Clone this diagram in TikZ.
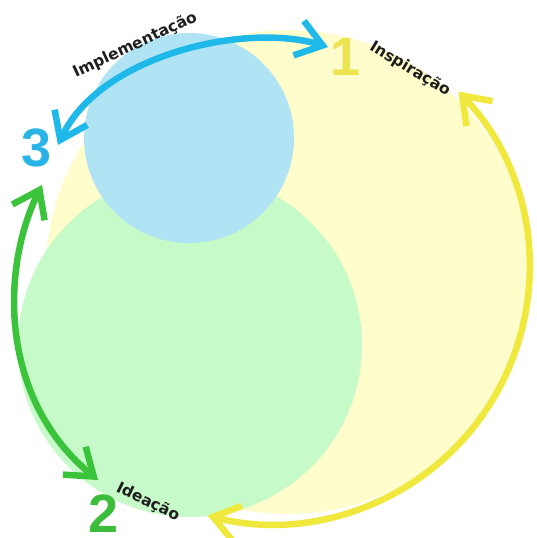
\documentclass[tikz,border=0pt]{standalone}
\usepackage{fontspec}
\usetikzlibrary{arrows.meta,calc}
\newfontfamily\labfont{DejaVu Sans}
\newfontfamily\numfont{Liberation Sans}
\definecolor{yfill}{RGB}{255,253,204}
\definecolor{gfill}{RGB}{198,250,200}
\definecolor{bfill}{RGB}{176,228,244}
\definecolor{yline}{RGB}{240,232,60}
\definecolor{bline}{RGB}{30,185,232}
\definecolor{gline}{RGB}{60,195,60}
\definecolor{ynum}{RGB}{236,228,80}
\definecolor{bnum}{RGB}{40,180,230}
\definecolor{gnum}{RGB}{60,190,60}
\definecolor{txt}{RGB}{30,30,30}
\tikzset{
  cyc/.style={line width=6.5pt, arrows={Straight Barb[length=25pt,width=36pt]-Straight Barb[length=25pt,width=36pt]}},
  lab/.style={font=\labfont\bfseries\fontsize{15.5}{17}\selectfont, text=txt, inner sep=0pt},
  num/.style={font=\numfont\bfseries\fontsize{54}{60}\selectfont, inner sep=0pt},
}
\begin{document}
\begin{tikzpicture}[x=1pt,y=-1pt]
\useasboundingbox (0,0) rectangle (537,538);
\fill[white] (0,0) rectangle (537,538);
% circles
\fill[yfill] (288,272) circle[radius=242];
\fill[gfill] (190,345) circle[radius=172];
\fill[bfill] (189,138) circle[radius=105];
% end points
\coordinate (yC) at (273,268);
\coordinate (yA) at ($(yC)+(-43.6:256)$);
\coordinate (bA) at (58,145);
\coordinate (bB) at (328,47);
\coordinate (gA) at (42,185);
\coordinate (gB) at (98,480);
% arrows
\draw[cyc, yline] (yA) arc[start angle=-43.6, end angle=104.8, radius=256] coordinate (yB);
\draw[cyc, bline] (bA) .. controls (100,55) and (245,22) .. (bB);
\draw[cyc, gline] (gA) .. controls (0,270) and (0,400) .. (gB);
% numbers
\node[num, text=ynum] (n1) at (346,57) {1};
\node[num, text=bnum] (n3) at (37,148) {3};
\node[num, text=gnum] (n2) at (104,514) {2};
% labels
\node[lab, rotate=25] (limp) at (135,45) {Implementação};
\node[lab, rotate=-31] (lins) at (410,69) {Inspiração};
\node[lab, rotate=-26] (lide) at (148,502) {Ideação};
\end{tikzpicture}
\end{document}
